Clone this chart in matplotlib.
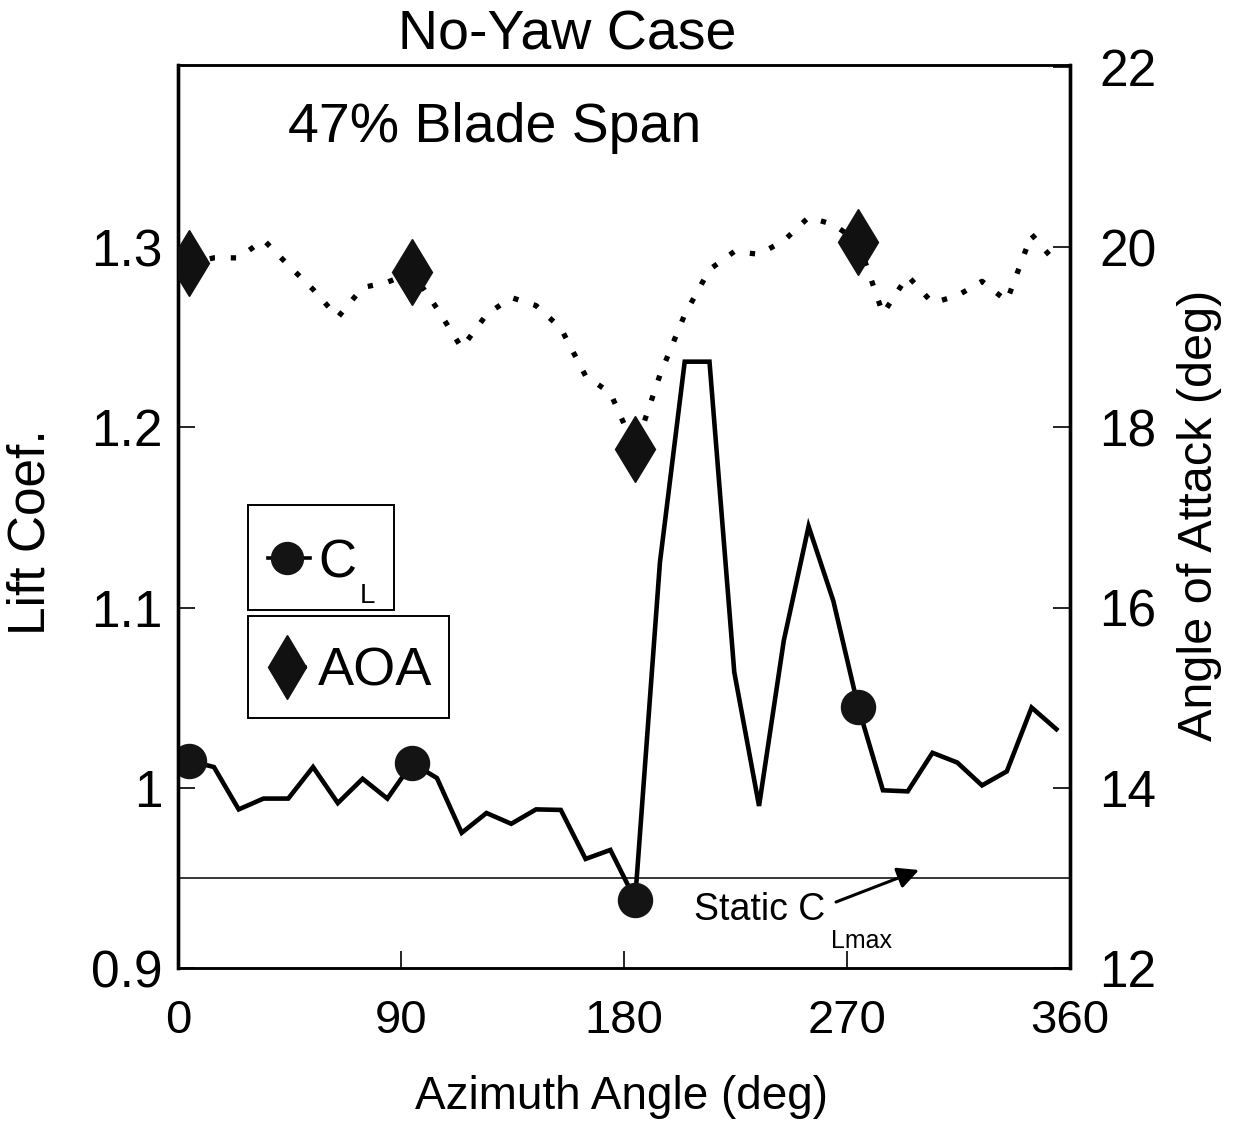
import matplotlib
matplotlib.use('Agg')
import matplotlib.pyplot as plt
from matplotlib.patches import Rectangle
from matplotlib.lines import Line2D
import numpy as np

plt.rcParams['font.family'] = ['Liberation Sans', 'DejaVu Sans']

# ---- data ----
azimuth = [4.5, 14.5, 24.5, 34.5, 44.5, 54.5, 64.5, 74.5, 84.5, 94.5,
           104.5, 114.5, 124.5, 134.5, 144.5, 154.5, 164.5, 174.5, 184.5, 194.5,
           204.5, 214.5, 224.5, 234.5, 244.5, 254.5, 264.5, 274.5, 284.5, 294.5,
           304.5, 314.5, 324.5, 334.5, 344.5, 354.5]
cl = [1.015, 1.0115, 0.988, 0.994, 0.994, 1.0115, 0.9915, 1.005, 0.994, 1.0137,
      1.0054, 0.975, 0.986, 0.980, 0.988, 0.9877, 0.9605, 0.9655, 0.938, 1.125,
      1.2364, 1.2364, 1.0642, 0.9899, 1.0817, 1.145, 1.1036, 1.045, 0.9986, 0.998,
      1.0194, 1.014, 1.0013, 1.0091, 1.0445, 1.0325]
aoa = [19.82, 19.88, 19.88, 20.08, 19.80, 19.53, 19.22, 19.55, 19.61, 19.72,
       19.32, 18.88, 19.25, 19.44, 19.35, 19.10, 18.57, 18.38, 17.76, 18.58,
       19.25, 19.75, 19.95, 19.92, 20.07, 20.33, 20.25, 20.06, 19.26, 19.68,
       19.38, 19.46, 19.62, 19.40, 20.14, 19.82]
marker_idx = [0, 9, 18, 27]
static_clmax = 0.95

x_ticks = [0, 90, 180, 270, 360]
cl_ticks = [0.9, 1.0, 1.1, 1.2, 1.3]
cl_tick_labels = ['0.9', '1', '1.1', '1.2', '1.3']
aoa_ticks = [12, 14, 16, 18, 20, 22]

W, H = 1233, 1131
fig = plt.figure(figsize=(W / 100, H / 100), dpi=100)
ax = fig.add_axes([178 / W, 1 - 968 / H, (1070 - 178) / W, (968 - 65) / H])
ax2 = ax.twinx()

az = np.array(azimuth)
cla = np.array(cl)
aoaa = np.array(aoa)

ax.axhline(static_clmax, color='k', lw=1.1, zorder=1)
ax.plot(az, cla, color='k', lw=3.3, solid_joinstyle='miter', zorder=3)
ax.plot(az[marker_idx], cla[marker_idx], 'o', ms=24.5, color='#141414', zorder=4)

ax2.plot(az, aoaa, color='k', lw=3.8, ls=(0, (1, 3.0)), dash_capstyle='butt', zorder=3)
ax2.plot(az[marker_idx], aoaa[marker_idx], 'd', ms=34, color='#111111', zorder=4)

ax.set_xlim(0, 360)
ax.set_ylim(0.9, 1.401)
ax2.set_ylim(12, 22.02)

ax.set_xticks(x_ticks)
ax.set_xticklabels([str(t) for t in x_ticks], fontsize=34)
ax.set_yticks(cl_ticks)
ax.set_yticklabels(cl_tick_labels, fontsize=37)
ax2.set_yticks(aoa_ticks)
ax2.set_yticklabels([str(t) for t in aoa_ticks], fontsize=37)

ax.tick_params(axis='x', direction='in', length=12, width=1.2, pad=22, top=False)
ax.tick_params(axis='y', direction='in', length=12, width=1.2, pad=11)
ax2.tick_params(axis='y', direction='in', length=12, width=1.2, pad=21)

for a in (ax, ax2):
    for s in a.spines.values():
        s.set_linewidth(1.8)
    a.spines['left'].set_linewidth(2.4)
    a.spines['right'].set_linewidth(2.4)

# ---- titles / labels ----
fig.text(567 / W, 1 - 50 / H, 'No-Yaw Case', ha='center', va='baseline', fontsize=40)
fig.text(288 / W, 1 - 142 / H, '47% Blade Span', ha='left', va='baseline', fontsize=40)
fig.text(31 / W, 1 - 532 / H, 'Lift Coef.', rotation=90, ha='center', va='center', fontsize=37)
fig.text(1200 / W, 1 - 515 / H, 'Angle of Attack (deg)', rotation=90, ha='center', va='center', fontsize=35)
fig.text(621 / W, 1 - 1097 / H, 'Azimuth Angle (deg)', ha='center', va='center', fontsize=33)

# ---- legend boxes ----
fig.add_artist(Rectangle((248 / W, 1 - 610 / H), 146 / W, 105 / H, transform=fig.transFigure,
                         fill=False, lw=1.4, color='k'))
fig.add_artist(Rectangle((248 / W, 1 - 718 / H), 201 / W, 102 / H, transform=fig.transFigure,
                         fill=False, lw=1.4, color='k'))
fig.add_artist(Line2D([268 / W, 310 / W], [1 - 558 / H] * 2, transform=fig.transFigure, lw=2.6, color='k'))
fig.add_artist(Line2D([287 / W], [1 - 558 / H], transform=fig.transFigure, marker='o', ms=23,
                      color='#141414', ls='none'))
fig.add_artist(Line2D([278 / W, 305 / W], [1 - 667 / H] * 2, transform=fig.transFigure, lw=2.6, color='k'))
fig.add_artist(Line2D([287 / W], [1 - 667 / H], transform=fig.transFigure, marker='d', ms=33,
                      color='#111111', ls='none'))
fig.text(318 / W, 1 - 578 / H, 'C', ha='left', va='baseline', fontsize=38)
fig.text(360 / W, 1 - 603 / H, 'L', ha='left', va='baseline', fontsize=20)
fig.text(318 / W, 1 - 685 / H, 'AOA', ha='left', va='baseline', fontsize=39)

# ---- static CLmax annotation ----
fig.text(694 / W, 1 - 920 / H, 'Static C', ha='left', va='baseline', fontsize=27)
fig.text(831 / W, 1 - 948 / H, 'Lmax', ha='left', va='baseline', fontsize=18)
ax.annotate('', xy=(919, H - 870), xycoords='figure pixels',
            xytext=(836, H - 902), textcoords='figure pixels',
            arrowprops=dict(arrowstyle='-|>', lw=2.2, color='k', mutation_scale=32,
                            shrinkA=0, shrinkB=0))

fig.savefig('out.png', dpi=100)
